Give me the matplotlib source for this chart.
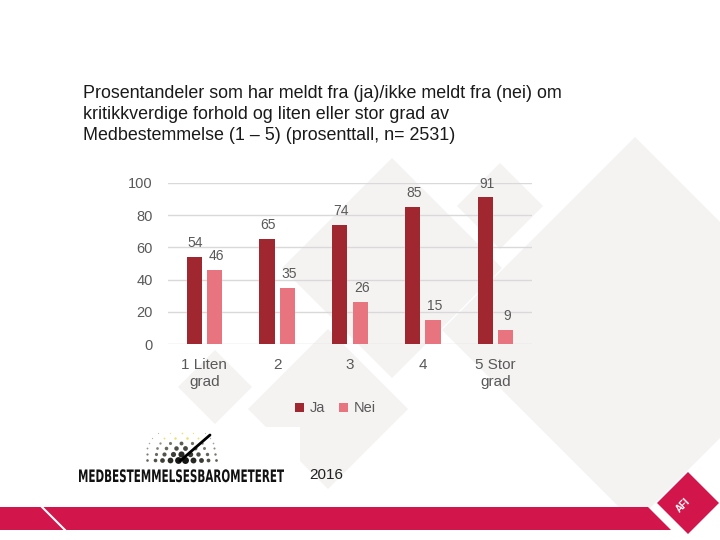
import numpy as np
import matplotlib
matplotlib.use('Agg')
import matplotlib.pyplot as plt
from matplotlib.patches import Polygon, Rectangle, PathPatch
from matplotlib.textpath import TextPath
from matplotlib.font_manager import FontProperties
from matplotlib.transforms import Affine2D

plt.rcParams['font.family'] = ['Liberation Sans', 'DejaVu Sans']

categories = ['1 Liten\ngrad', '2', '3', '4', '5 Stor\ngrad']
ja = [54, 65, 74, 85, 91]
nei = [46, 35, 26, 15, 9]
yticks = [0, 20, 40, 60, 80, 100]

title = ('Prosentandeler som har meldt fra (ja)/ikke meldt fra (nei) om\n'
         'kritikkverdige forhold og liten eller stor grad av\n'
         'Medbestemmelse (1 \u2013 5) (prosenttall, n= 2531)')

c_ja = '#A0262F'
c_nei = '#E8747F'
c_red = '#D2154A'
c_bg = '#F5F3F2'
c_txt = '#595959'

fig = plt.figure(figsize=(7.2, 5.4), dpi=100)

# slide background in pixel coords
bg = fig.add_axes([0, 0, 1, 1], zorder=0)
bg.set_xlim(0, 720)
bg.set_ylim(540, 0)
bg.axis('off')


def diamond(cx, cy, r, color=c_bg):
    bg.add_patch(Polygon([(cx, cy - r), (cx + r, cy), (cx, cy + r), (cx - r, cy)],
                         closed=True, color=color, lw=0))


diamond(635, 330, 193)
diamond(500, 206, 43)
diamond(392, 268, 110)
diamond(328, 409, 80)
diamond(215, 387, 37)

# white box behind logo
bg.add_patch(Rectangle((62, 427), 238, 71, color='white', lw=0))

# red footer band
bg.add_patch(Polygon([(0, 507), (648, 507), (671, 530), (0, 530)], closed=True,
                     color=c_red, lw=0))
bg.plot([42, 65], [507, 530], color='white', lw=1.5)
diamond(688, 503, 31, color=c_red)
bg.text(683, 505, 'AFI', color='white', fontsize=7, fontweight='bold',
        rotation=45, ha='center', va='center')

# logo dots
rows = [(433, 158, 205, 5), (438, 152, 210, 6), (443, 149, 213, 7),
        (448, 147, 214, 8), (454, 147, 215, 9), (460, 147, 216, 10)]
for i, (y, x0, x1, n) in enumerate(rows):
    xs = np.linspace(x0, x1, n)
    for xx in xs:
        d = min(abs(xx - 182) / 36, 1)
        size = (0.8 + i * 0.55) * (1.5 - d)
        if i < 2:
            col = (0.93, 0.88, 0.45) if d < 0.6 else (0.7, 0.7, 0.6)
        else:
            g = max(0, 0.55 - i * 0.1) + d * 0.35
            col = (g, g, g * 0.9)
        bg.plot(xx, y, 'o', ms=max(size, 0.8), color=col, mec='none')
bg.plot([180, 210], [461, 435], color='black', lw=2.0, solid_capstyle='round')

tp = TextPath((0, 0), 'MEDBESTEMMELSESBAROMETERET', size=10,
              prop=FontProperties(family='DejaVu Sans', weight='bold'))
ext = tp.get_extents()
sx = 205 / ext.width
sy = 13 / ext.height
tp = Affine2D().scale(sx, -sy).translate(79 - ext.x0 * sx, 482).transform_path(tp)
bg.add_patch(PathPatch(tp, color='#111111', lw=0))
bg.text(326, 475, '2016', fontsize=11, color='#222222', ha='center', va='center')

fig.text(83 / 720, 1 - 85 / 540, title, fontsize=12.9, color='#1a1a1a',
         ha='left', va='top', linespacing=1.3)

# chart
ax = fig.add_axes([168 / 720, 1 - 344 / 540, 364 / 720, 161 / 540], zorder=1)
ax.patch.set_alpha(0)
x = np.arange(len(categories))
w = 0.21
b1 = ax.bar(x - 0.14, ja, w, color=c_ja, label='Ja', zorder=2)
b2 = ax.bar(x + 0.14, nei, w, color=c_nei, label='Nei', zorder=2)
for bars in (b1, b2):
    for r in bars:
        ax.annotate(f'{r.get_height():.0f}', (r.get_x() + r.get_width() / 2, r.get_height()),
                    xytext=(1, 5), textcoords='offset points', ha='center', va='bottom',
                    fontsize=10, color=c_txt)

ax.set_xlim(-0.5, 4.5)
ax.set_ylim(0, 100)
ax.set_yticks(yticks)
ax.set_xticks(x)
ax.set_xticklabels(categories, fontsize=11, color=c_txt, linespacing=1.3)
ax.tick_params(axis='y', length=0, pad=11, labelsize=10.5, labelcolor=c_txt)
ax.tick_params(axis='x', length=0, pad=10)
ax.grid(axis='y', color='#D9D9D9', lw=1, zorder=0)
for s in ax.spines.values():
    s.set_visible(False)

ax.legend(loc='center', bbox_to_anchor=(0.46, -0.4), ncol=2, frameon=False,
          fontsize=10.5, handlelength=0.6, handleheight=0.6, handletextpad=0.4,
          columnspacing=1.0, labelcolor=c_txt)

fig.savefig('out.png', dpi=100)
